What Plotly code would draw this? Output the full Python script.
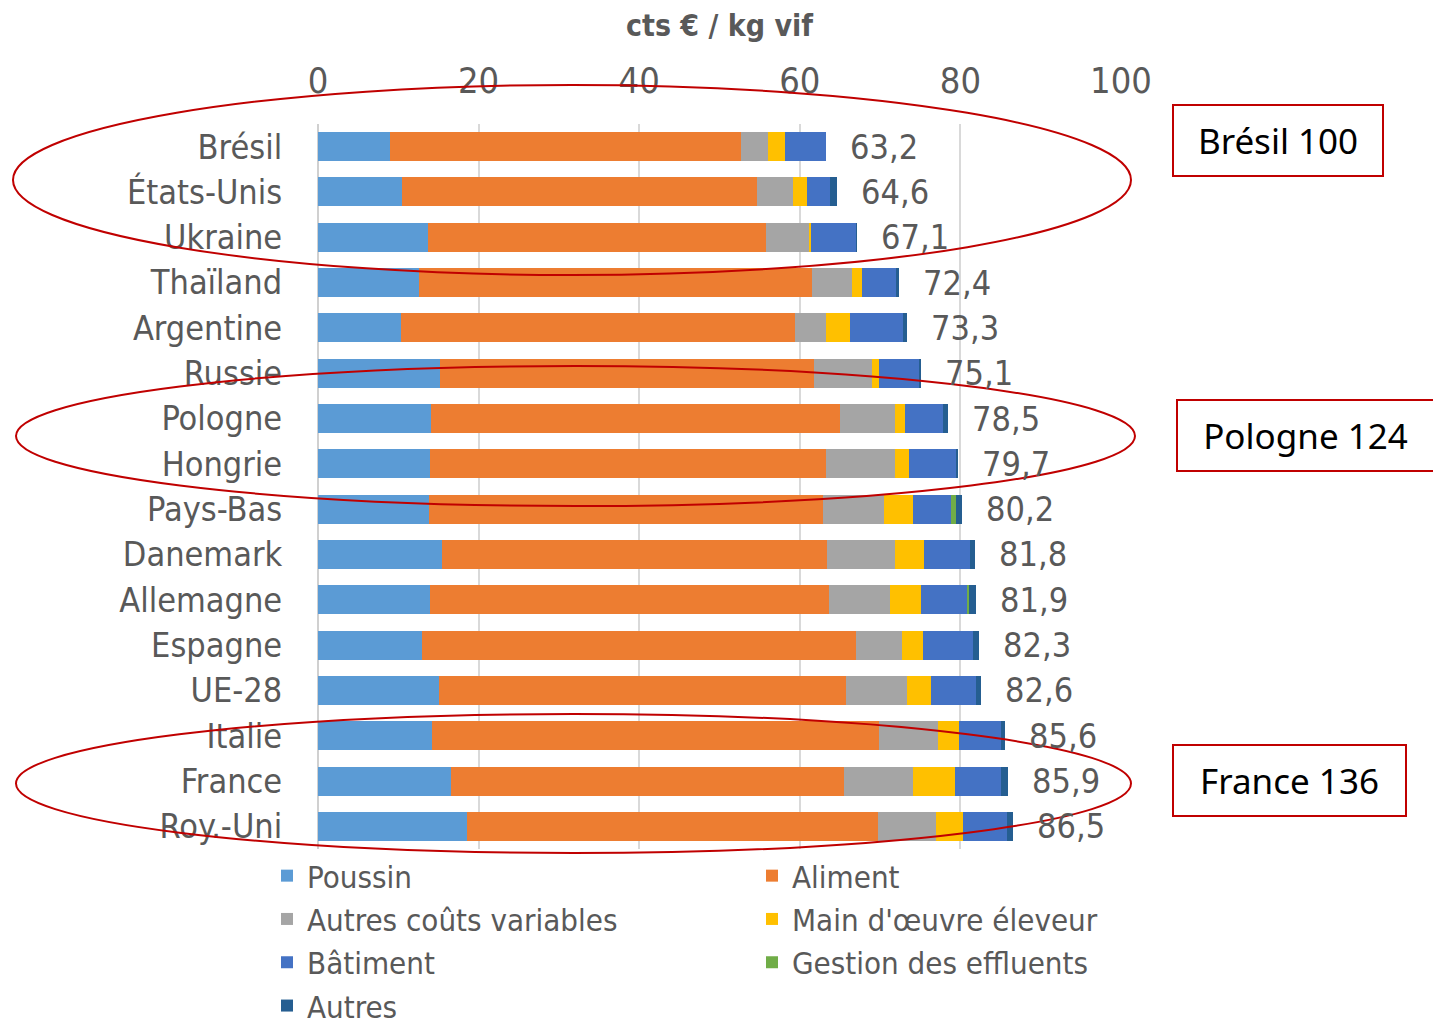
import plotly.graph_objects as go

pays = ["Brésil", "États-Unis", "Ukraine", "Thaïland", "Argentine", "Russie", "Pologne",
        "Hongrie", "Pays-Bas", "Danemark", "Allemagne", "Espagne", "UE-28", "Italie",
        "France", "Roy.-Uni"]
totaux = [63.2, 64.6, 67.1, 72.4, 73.3, 75.1, 78.5, 79.7, 80.2, 81.8, 81.9, 82.3, 82.6, 85.6, 85.9, 86.5]
poussin = [9.0, 10.5, 13.7, 12.6, 10.3, 15.2, 14.1, 13.9, 13.8, 15.5, 14.0, 12.9, 15.1, 14.2, 16.6, 18.6]
aliment = [43.7, 44.2, 42.1, 48.9, 49.1, 46.6, 50.9, 49.3, 49.1, 47.9, 49.6, 54.1, 50.6, 55.7, 48.9, 51.2]
autres_var = [3.4, 4.4, 5.3, 5.0, 3.8, 7.2, 6.8, 8.6, 7.6, 8.4, 7.6, 5.7, 7.6, 7.3, 8.6, 7.1]
main_oeuvre = [2.0, 1.8, 0.3, 1.3, 3.0, 0.9, 1.3, 1.8, 3.6, 3.7, 3.9, 2.6, 3.1, 2.6, 5.2, 3.4]
batiment = [5.1, 2.9, 5.6, 4.2, 6.7, 5.0, 4.7, 5.8, 4.7, 5.7, 5.7, 6.3, 5.5, 5.3, 5.8, 5.5]
effluents = [0, 0, 0, 0, 0, 0, 0, 0, 0.7, 0, 0.3, 0, 0, 0, 0, 0]
autres = [0, 0.8, 0.1, 0.4, 0.4, 0.2, 0.7, 0.3, 0.7, 0.6, 0.8, 0.7, 0.7, 0.5, 0.8, 0.7]

series_noms = ["Poussin", "Aliment", "Autres coûts variables", "Main d'œuvre éleveur",
               "Bâtiment", "Gestion des effluents", "Autres"]
series_vals = [poussin, aliment, autres_var, main_oeuvre, batiment, effluents, autres]
couleurs = ["#5B9BD5", "#ED7D31", "#A5A5A5", "#FFC000", "#4472C4", "#70AD47", "#255E91"]

encadres = ["Brésil 100", "Pologne 124", "France 136"]

# the page body adds an 8 px margin: reference pixel -> figure pixel
OFF = 8
W, H = 1441, 1027
L, R, T, B = 318 - OFF, 1121 - OFF, 124 - OFF, 849 - OFF
NARROW = "Liberation Sans Narrow, Arial Narrow, DejaVu Sans Condensed, sans-serif"
GREY = "#595959"


def px(x):
    return (x - OFF - L) / (R - L)


def py(y):
    return (B - (y - OFF)) / (B - T)


fig = go.Figure()
for nom, vals, col in zip(series_noms, series_vals, couleurs):
    fig.add_trace(go.Bar(
        y=pays, x=vals, name=nom, orientation="h",
        marker=dict(color=col, line=dict(width=0)),
    ))

for p, t in zip(pays, totaux):
    fig.add_annotation(
        x=t, y=p, xref="x", yref="y", text=f"{t:.1f}".replace(".", ","),
        showarrow=False, xanchor="left", xshift=22,
        font=dict(family=NARROW, size=34, color=GREY),
    )

# Encadrés rouges
boites = [(1173, 1383, 105, 176), (1177, 1434, 400, 471), (1173, 1406, 745, 816)]
for txt, (x0, x1, y0, y1) in zip(encadres, boites):
    fig.add_annotation(
        x=px((x0 + x1) / 2), y=py((y0 + y1) / 2), xref="paper", yref="paper",
        text=txt, showarrow=False, xanchor="center", yanchor="middle",
        width=x1 - x0 - 2, height=y1 - y0 - 2, borderpad=0,
        bordercolor="#C00000", borderwidth=2, bgcolor="white",
        font=dict(family="Noto Sans, Open Sans, sans-serif", size=35, color="black"),
    )

# Ellipses
ellipses = [(13, 1131, 85, 275), (16, 1135, 366, 506), (16, 1131, 714, 853)]
for x0, x1, y0, y1 in ellipses:
    fig.add_shape(type="circle", xref="paper", yref="paper",
                  x0=px(x0), x1=px(x1), y0=py(y1), y1=py(y0),
                  line=dict(color="#C00000", width=2), fillcolor="rgba(0,0,0,0)")

fig.update_layout(
    width=W, height=H,
    margin=dict(l=L, r=W - R, t=T, b=H - B, autoexpand=False),
    paper_bgcolor="white", plot_bgcolor="white",
    barmode="stack", bargap=0.36,
    showlegend=True,
    legend=dict(
        orientation="h", x=px(267), xanchor="left", y=0, yanchor="top",
        entrywidth=440, traceorder="normal",
        font=dict(family=NARROW, size=31, color=GREY),
        bgcolor="rgba(0,0,0,0)",
    ),
    xaxis=dict(
        range=[0, 100], side="top", tickvals=[0, 20, 40, 60, 80, 100],
        showgrid=True, gridcolor="#D9D9D9", gridwidth=2,
        zeroline=True, zerolinecolor="#D0D0D0", zerolinewidth=2,
        ticks="outside", ticklen=16, tickcolor="rgba(0,0,0,0)",
        tickfont=dict(family=NARROW, size=36, color=GREY),
        title=dict(text="<b>cts € / kg vif</b>", standoff=16,
                   font=dict(family=NARROW, size=30, color=GREY)),
        showline=False, fixedrange=True,
    ),
    yaxis=dict(
        autorange="reversed", showgrid=False, zeroline=False, showline=False,
        ticks="outside", ticklen=28, tickcolor="rgba(0,0,0,0)",
        tickfont=dict(family=NARROW, size=34, color=GREY),
        fixedrange=True,
    ),
)

fig.write_html("out.html")
